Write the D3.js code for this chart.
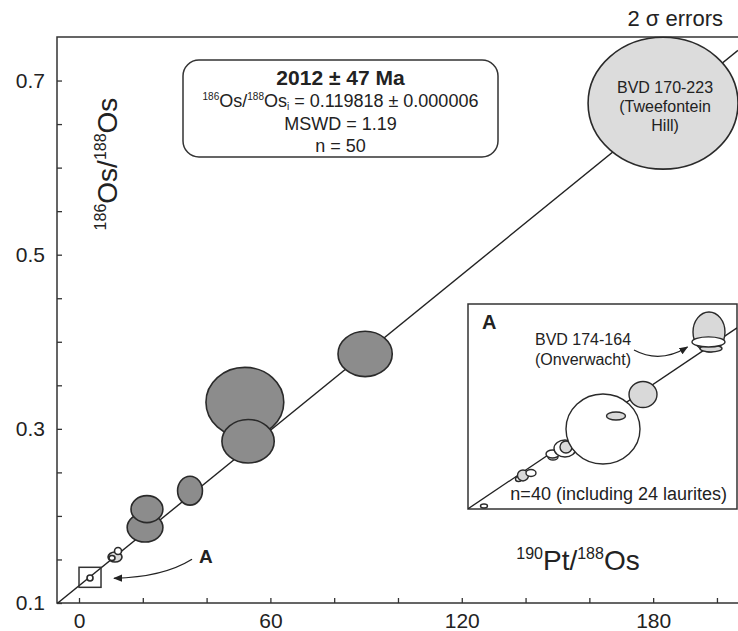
<!DOCTYPE html>
<html>
<head>
<meta charset="utf-8">
<script src="https://cdn.jsdelivr.net/npm/d3@7"></script>
<style>
  body { margin: 0; background: #fff; }
  text { font-family: "Liberation Sans", Arial, Helvetica, sans-serif; fill: #222; }
</style>
</head>
<body>
<div id="chart"></div>
<script>
// Chart size
var w = 738, h = 631;

// Isochron parameters
var ageMa = 2012;
var initialRatio = 0.119818;
var lambdaPt = 1.477e-12;

// Main plot: 190Pt/188Os, 186Os/188Os and 2 sigma half-widths
var mainX    = [52.0, 53.0, 89.7, 34.8, 20.7, 21.3, 183.1, 11.29, 12.23, 10.34, 3.45];
var mainY    = [0.3306, 0.2858, 0.386, 0.229, 0.1866, 0.2078, 0.674, 0.1528, 0.1597, 0.1516, 0.1287];
var mainXErr = [12.2, 8.2, 8.5, 3.9, 5.6, 5.0, 23.5, 2.19, 1.10, 0.94, 0.94];
var mainYErr = [0.040, 0.025, 0.026, 0.0166, 0.0166, 0.0155, 0.0757, 0.0057, 0.0040, 0.0029, 0.0034];
var mainKind = ["sample", "sample", "sample", "sample", "sample", "sample", "tweefontein", "grain", "open", "open", "open"];

// Inset A (zoom of the low-ratio region)
var insetX    = [0.416, 1.314, 1.431, 1.639, 2.212, 2.199, 2.524, 2.550, 3.513, 3.851, 4.554, 6.271, 6.323, 6.258];
var insetY    = [0.12015, 0.12325, 0.12366, 0.12394, 0.12579, 0.12613, 0.12677, 0.12694, 0.12901, 0.13051, 0.13298, 0.14018, 0.13828, 0.13903];
var insetXErr = [0.091, 0.078, 0.143, 0.130, 0.130, 0.169, 0.286, 0.156, 0.963, 0.247, 0.364, 0.416, 0.286, 0.429];
var insetYErr = [0.00023, 0.00029, 0.00063, 0.0004, 0.00035, 0.00046, 0.00098, 0.00069, 0.00403, 0.00046, 0.0015, 0.0023, 0.0004, 0.00058];
var insetKind = ["open", "open", "grain", "open", "open", "open", "open", "grain", "open", "grain", "grain", "grain", "grain", "open"];

// Region shown in inset A
var boxAX = [0, 6.9];
var boxAY = [0.118, 0.141];

// Axis ticks and labels
var xTicks = [0, 20, 40, 60, 80, 100, 120, 140, 160, 180, 200];
var xTickLabels = [0, 60, 120, 180];
var yTicks = [0.1, 0.15, 0.2, 0.25, 0.3, 0.35, 0.4, 0.45, 0.5, 0.55, 0.6, 0.65, 0.7];
var yTickLabels = [0.1, 0.3, 0.5, 0.7];

var slope = Math.exp(lambdaPt * ageMa * 1e6) - 1;
var fills = { sample: "#8c8c8c", tweefontein: "#dcdcdc", grain: "#d9d9d9", open: "#ffffff" };

// Scales
var xScale = d3.scaleLinear().domain([-6.9, 206.6]).range([57, 738]);
var yScale = d3.scaleLinear().domain([0.1, 0.75]).range([603, 37]);

var ixScale = d3.scaleLinear().domain([0, 7]).range([468, 737]);
var iyScale = d3.scaleLinear().domain([0.1198, 0.1434]).range([509, 304]);

var svg = d3.select("#chart").append("svg")
    .attr("width", w)
    .attr("height", h);

var defs = svg.append("defs");
defs.append("clipPath").attr("id", "plotClip")
    .append("rect")
    .attr("x", xScale.range()[0]).attr("y", yScale.range()[1])
    .attr("width", xScale.range()[1] - xScale.range()[0] + 5)
    .attr("height", yScale.range()[0] - yScale.range()[1]);
defs.append("clipPath").attr("id", "insetClip")
    .append("rect")
    .attr("x", ixScale.range()[0]).attr("y", iyScale.range()[1])
    .attr("width", ixScale.range()[1] - ixScale.range()[0])
    .attr("height", iyScale.range()[0] - iyScale.range()[1]);
defs.append("marker").attr("id", "arrowHead")
    .attr("viewBox", "0 0 10 10")
    .attr("refX", 9).attr("refY", 5)
    .attr("markerWidth", 9).attr("markerHeight", 9)
    .attr("markerUnits", "userSpaceOnUse")
    .attr("orient", "auto")
    .append("path").attr("d", "M0,1 L10,5 L0,9 Z").attr("fill", "#222");

// Axes (ticks point inwards)
var yAxis = d3.axisLeft(yScale)
    .tickValues(yTicks)
    .tickSize(-5)
    .tickPadding(12)
    .tickFormat(function(d) { return yTickLabels.some(function(v) { return Math.abs(v - d) < 1e-9; }) ? d3.format(".1f")(d) : ""; });
var xAxis = d3.axisBottom(xScale)
    .tickValues(xTicks)
    .tickSize(-5)
    .tickPadding(10)
    .tickFormat(function(d) { return xTickLabels.indexOf(d) >= 0 ? d : ""; });

var gy = svg.append("g").attr("transform", "translate(" + xScale.range()[0] + ",0)").call(yAxis);
var gx = svg.append("g").attr("transform", "translate(0," + yScale.range()[0] + ")").call(xAxis);
[gx, gy].forEach(function(g) {
    g.select(".domain").remove();
    g.selectAll(".tick line").attr("stroke", "#333").attr("stroke-width", 1.3);
    g.selectAll(".tick text").attr("font-size", 21).attr("fill", "#222")
        .style("font-family", "'Liberation Sans', Arial, sans-serif");
});

// Frame (left, top, bottom; right edge runs off the page)
svg.append("rect")
    .attr("x", xScale.range()[0]).attr("y", yScale.range()[1])
    .attr("width", xScale.range()[1] - xScale.range()[0] + 10)
    .attr("height", yScale.range()[0] - yScale.range()[1])
    .attr("fill", "none").attr("stroke", "#333").attr("stroke-width", 1.5);

// Isochron line
var xd = xScale.domain();
svg.append("line")
    .attr("clip-path", "url(#plotClip)")
    .attr("x1", xScale(xd[0])).attr("y1", yScale(initialRatio + slope * xd[0]))
    .attr("x2", xScale(xd[1])).attr("y2", yScale(initialRatio + slope * xd[1]))
    .attr("stroke", "#222").attr("stroke-width", 1.4);

// Error ellipses
var mainData = mainX.map(function(x, i) {
    return { x: x, y: mainY[i], ex: mainXErr[i], ey: mainYErr[i], kind: mainKind[i] };
});
svg.append("g").selectAll("ellipse")
    .data(mainData)
    .enter().append("ellipse")
    .attr("cx", function(d) { return xScale(d.x); })
    .attr("cy", function(d) { return yScale(d.y); })
    .attr("rx", function(d) { return xScale(d.x + d.ex) - xScale(d.x); })
    .attr("ry", function(d) { return yScale(d.y) - yScale(d.y + d.ey); })
    .attr("fill", function(d) { return fills[d.kind]; })
    .attr("stroke", "#2a2a2a").attr("stroke-width", 1.6);

// Box A
svg.append("rect")
    .attr("x", xScale(boxAX[0])).attr("y", yScale(boxAY[1]))
    .attr("width", xScale(boxAX[1]) - xScale(boxAX[0]))
    .attr("height", yScale(boxAY[0]) - yScale(boxAY[1]))
    .attr("fill", "none").attr("stroke", "#333").attr("stroke-width", 1.5);

// Arrow to box A and label
var aX = xScale(boxAX[1]);
var aTop = yScale(boxAY[1]), aBot = yScale(boxAY[0]);
svg.append("path")
    .attr("d", "M" + (aX + 91) + "," + (aTop - 8) +
               " Q" + (aX + 62) + "," + (aBot - 10) +
               " " + (aX + 13) + "," + (aBot - 9))
    .attr("fill", "none").attr("stroke", "#222").attr("stroke-width", 1.3)
    .attr("marker-end", "url(#arrowHead)");
svg.append("text")
    .attr("x", aX + 98).attr("y", aTop - 4)
    .attr("font-size", 19).attr("font-weight", "bold")
    .text("A");

// Result box
svg.append("rect")
    .attr("x", 183).attr("y", 60).attr("width", 315).attr("height", 97)
    .attr("rx", 16).attr("ry", 16)
    .attr("fill", "#fff").attr("stroke", "#333").attr("stroke-width", 1.5);
var bx = 340.5;
svg.append("text").attr("x", bx).attr("y", 85).attr("text-anchor", "middle")
    .attr("font-size", 21).attr("font-weight", "bold")
    .text(ageMa + " \u00b1 47 Ma");
var l2 = svg.append("text").attr("x", bx).attr("y", 107).attr("text-anchor", "middle").attr("font-size", 18);
l2.append("tspan").attr("font-size", 10).attr("dy", -7).text("186");
l2.append("tspan").attr("dy", 7).text("Os/");
l2.append("tspan").attr("font-size", 10).attr("dy", -7).text("188");
l2.append("tspan").attr("dy", 7).text("Os");
l2.append("tspan").attr("font-size", 10).attr("dy", 3).text("i");
l2.append("tspan").attr("dy", -3).text(" = " + initialRatio.toFixed(6) + " \u00b1 0.000006");
svg.append("text").attr("x", bx).attr("y", 130).attr("text-anchor", "middle")
    .attr("font-size", 18).text("MSWD = 1.19");
svg.append("text").attr("x", bx).attr("y", 152).attr("text-anchor", "middle")
    .attr("font-size", 18).text("n = 50");

// 2 sigma note
svg.append("text").attr("x", 723).attr("y", 26).attr("text-anchor", "end")
    .attr("font-size", 22).text("2 \u03c3 errors");

// Tweefontein label inside its ellipse
var tw = mainData[6];
var twLines = ["BVD 170-223", "(Tweefontein", "Hill)"];
svg.append("g").selectAll("text").data(twLines).enter().append("text")
    .attr("x", xScale(tw.x) + 2)
    .attr("y", function(d, i) { return yScale(tw.y) - 10 + i * 19; })
    .attr("text-anchor", "middle").attr("font-size", 16).attr("fill", "#333")
    .text(function(d) { return d; });

// Axis titles
var yl = svg.append("text")
    .attr("transform", "translate(117,164) rotate(-90)")
    .attr("text-anchor", "middle").attr("font-size", 28);
yl.append("tspan").attr("font-size", 16).attr("dy", -11).text("186");
yl.append("tspan").attr("dy", 11).text("Os/");
yl.append("tspan").attr("font-size", 16).attr("dy", -11).text("188");
yl.append("tspan").attr("dy", 11).text("Os");

var xl = svg.append("text")
    .attr("x", 578).attr("y", 570)
    .attr("text-anchor", "middle").attr("font-size", 28);
xl.append("tspan").attr("font-size", 16).attr("dy", -11).text("190");
xl.append("tspan").attr("dy", 11).text("Pt/");
xl.append("tspan").attr("font-size", 16).attr("dy", -11).text("188");
xl.append("tspan").attr("dy", 11).text("Os");

// Inset A
var inset = svg.append("g");
inset.append("rect")
    .attr("x", ixScale.range()[0]).attr("y", iyScale.range()[1])
    .attr("width", ixScale.range()[1] - ixScale.range()[0])
    .attr("height", iyScale.range()[0] - iyScale.range()[1])
    .attr("fill", "#fff").attr("stroke", "#333").attr("stroke-width", 1.5);
var ixd = ixScale.domain();
inset.append("line")
    .attr("clip-path", "url(#insetClip)")
    .attr("x1", ixScale(ixd[0])).attr("y1", iyScale(initialRatio + slope * ixd[0]))
    .attr("x2", ixScale(ixd[1])).attr("y2", iyScale(initialRatio + slope * ixd[1]))
    .attr("stroke", "#222").attr("stroke-width", 1.3);

var insetData = insetX.map(function(x, i) {
    return { x: x, y: insetY[i], ex: insetXErr[i], ey: insetYErr[i], kind: insetKind[i] };
});
inset.append("g").selectAll("ellipse")
    .data(insetData)
    .enter().append("ellipse")
    .attr("cx", function(d) { return ixScale(d.x); })
    .attr("cy", function(d) { return iyScale(d.y); })
    .attr("rx", function(d) { return ixScale(d.x + d.ex) - ixScale(d.x); })
    .attr("ry", function(d) { return iyScale(d.y) - iyScale(d.y + d.ey); })
    .attr("fill", function(d) { return fills[d.kind]; })
    .attr("stroke", "#2a2a2a").attr("stroke-width", 1.4);

inset.append("text").attr("x", ixScale.range()[0] + 14).attr("y", iyScale.range()[1] + 25)
    .attr("font-size", 20).attr("font-weight", "bold").text("A");
inset.append("text").attr("x", 583).attr("y", 345).attr("text-anchor", "middle")
    .attr("font-size", 16).attr("fill", "#484848").text("BVD 174-164");
inset.append("text").attr("x", 583).attr("y", 365).attr("text-anchor", "middle")
    .attr("font-size", 16).attr("fill", "#484848").text("(Onverwacht)");
var ov = insetData[13];
inset.append("path")
    .attr("d", "M634,350 Q660,364 " + (ixScale(ov.x) - 21) + "," + (iyScale(ov.y) + 5))
    .attr("fill", "none").attr("stroke", "#222").attr("stroke-width", 1.3)
    .attr("marker-end", "url(#arrowHead)");
inset.append("text").attr("x", ixScale.range()[1] - 10).attr("y", 500).attr("text-anchor", "end")
    .attr("font-size", 18).attr("fill", "#333").text("n=40 (including 24 laurites)");
</script>
</body>
</html>
